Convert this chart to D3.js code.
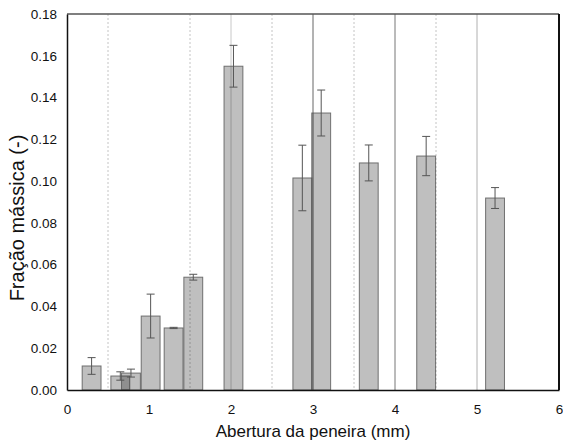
<!DOCTYPE html>
<html lang="pt">
<head>
<meta charset="UTF-8">
<title>Fração mássica por abertura da peneira</title>
<script src="https://d3js.org/d3.v7.min.js"></script>
<style>
    body{
        margin: 0;
        padding: 0;
        background: #fff;
    }
    svg text{
        font-family: "Liberation Sans", Arial, sans-serif;
        fill: #111;
    }
</style>
</head>
<body>
<svg id="canvas" width="563" height="446"></svg>
<script>

// bar centres (mm), mass fraction and error
const positions = [0.30, 0.65, 0.78, 1.02, 1.30, 1.54, 2.03, 2.87, 3.10, 3.68, 4.38, 5.22]
const fractions = [0.0115, 0.0067, 0.0081, 0.0354, 0.0297, 0.054, 0.155, 0.1015, 0.1326, 0.1087, 0.112, 0.0919]
const errors = [0.004, 0.002, 0.0019, 0.0105, 0.0003, 0.0014, 0.010, 0.0157, 0.011, 0.0086, 0.0094, 0.005]

const xTicks = [0, 1, 2, 3, 4, 5, 6]
const yTicks = [0, 0.02, 0.04, 0.06, 0.08, 0.10, 0.12, 0.14, 0.16, 0.18]
// vertical guide lines: half steps dotted, whole steps solid
const dottedLines = [0.5, 1.5, 2.5, 3.5, 4.5]
const solidLines = [2, 3, 4, 5]
const solidColours = ["#c8c8c8", "#666", "#777", "#b0b0b0"]

const barWidth = 0.23

const canvas = d3.select("#canvas")

const x = d3.scaleLinear().domain([0, 6]).range([67, 559])
const y = d3.scaleLinear().domain([0, 0.18]).range([390, 14])

let bars = positions.map((p, i) => {
    return {pos: p, value: fractions[i], err: errors[i]}
})

// guide lines behind the bars
canvas.append("g")
    .selectAll("line")
    .data(dottedLines)
    .enter()
    .append("line")
    .attr("x1", d => x(d)).attr("x2", d => x(d))
    .attr("y1", y(0.18)).attr("y2", y(0))
    .attr("stroke", "#c4c4c4")
    .attr("stroke-dasharray", "2,2")
    .attr("stroke-width", 1)

canvas.append("g")
    .selectAll("line")
    .data(solidLines)
    .enter()
    .append("line")
    .attr("x1", d => x(d)).attr("x2", d => x(d))
    .attr("y1", y(0.18)).attr("y2", y(0))
    .attr("stroke", (d, i) => solidColours[i])
    .attr("stroke-width", 1)

// bars (see-through so overlaps get darker)
canvas.append("g")
    .selectAll("rect")
    .data(bars)
    .enter()
    .append("rect")
    .attr("x", d => x(d.pos - barWidth / 2))
    .attr("width", d => x(d.pos + barWidth / 2) - x(d.pos - barWidth / 2))
    .attr("y", d => y(d.value))
    .attr("height", d => y(0) - y(d.value))
    .attr("fill", "#000")
    .attr("fill-opacity", 0.25)
    .attr("stroke", "#555")
    .attr("stroke-opacity", 0.8)
    .attr("stroke-width", 1)

// error bars
let errG = canvas.append("g")
    .selectAll("g")
    .data(bars)
    .enter()
    .append("g")
    .attr("stroke", "#555")
    .attr("stroke-width", 1)

errG.append("line")
    .attr("x1", d => x(d.pos)).attr("x2", d => x(d.pos))
    .attr("y1", d => y(d.value + d.err))
    .attr("y2", d => y(d.value - d.err))

errG.append("line")
    .attr("x1", d => x(d.pos) - 4).attr("x2", d => x(d.pos) + 4)
    .attr("y1", d => y(d.value + d.err))
    .attr("y2", d => y(d.value + d.err))

errG.append("line")
    .attr("x1", d => x(d.pos) - 4).attr("x2", d => x(d.pos) + 4)
    .attr("y1", d => y(d.value - d.err))
    .attr("y2", d => y(d.value - d.err))

// frame
canvas.append("line")
    .attr("x1", x(0)).attr("x2", x(6))
    .attr("y1", y(0.18)).attr("y2", y(0.18))
    .attr("stroke", "#555").attr("stroke-width", 1.5)

canvas.append("line")
    .attr("x1", x(6)).attr("x2", x(6))
    .attr("y1", y(0.18)).attr("y2", y(0))
    .attr("stroke", "#111").attr("stroke-width", 2)

// axes without tick marks
let xAxis = canvas.append("g")
    .attr("transform", "translate(0," + y(0) + ")")
    .call(d3.axisBottom(x).tickValues(xTicks).tickSize(0).tickPadding(14).tickFormat(d3.format("d")))

let yAxis = canvas.append("g")
    .attr("transform", "translate(" + x(0) + ",0)")
    .call(d3.axisLeft(y).tickValues(yTicks).tickSize(0).tickPadding(10).tickFormat(d3.format(".2f")))

xAxis.select(".domain").attr("stroke", "#111").attr("stroke-width", 1.5)
yAxis.select(".domain").attr("stroke", "#111").attr("stroke-width", 1.5)
xAxis.selectAll("text").attr("font-size", "13.5px").attr("fill", "#111")
yAxis.selectAll("text").attr("font-size", "13.5px").attr("fill", "#111")

// axis titles
canvas.append("text")
    .attr("x", x(3))
    .attr("y", 437)
    .attr("text-anchor", "middle")
    .attr("font-size", "17px")
    .text("Abertura da peneira (mm)")

canvas.append("text")
    .attr("transform", "translate(24,218) rotate(-90)")
    .attr("text-anchor", "middle")
    .attr("font-size", "20px")
    .text("Fração mássica (-)")

</script>
</body>
</html>
